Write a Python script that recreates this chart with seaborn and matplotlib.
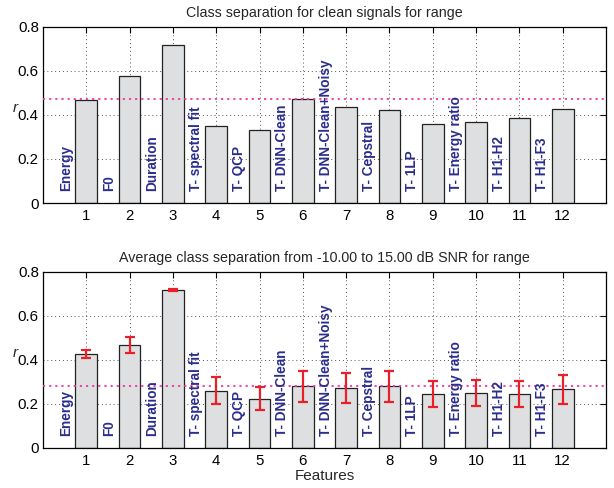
import matplotlib
matplotlib.use("Agg")
import matplotlib.pyplot as plt
import seaborn as sns
import numpy as np
import pandas as pd

features = [str(i) for i in range(1, 13)]
feature_names = ["Energy", "F0", "Duration", "T- spectral fit", "T- QCP", "T- DNN-Clean",
                 "T- DNN-Clean+Noisy", "T- Cepstral", "T- 1LP", "T- Energy ratio",
                 "T- H1-H2", "T- H1-F3"]
clean_r = [0.468, 0.577, 0.718, 0.351, 0.330, 0.473, 0.435, 0.421, 0.361, 0.368, 0.388, 0.426]
clean_ref = 0.473
noisy_r = [0.427, 0.468, 0.718, 0.261, 0.224, 0.280, 0.273, 0.280, 0.245, 0.251, 0.245, 0.267]
noisy_err = [0.020, 0.037, 0.003, 0.062, 0.052, 0.071, 0.069, 0.070, 0.059, 0.059, 0.060, 0.066]
noisy_ref = 0.282
titles = ["Class separation for clean signals for range",
          "Average class separation from -10.00 to 15.00 dB SNR for range"]
yticks = [0, 0.2, 0.4, 0.6, 0.8]
ytick_labels = ["0", "0.2", "0.4", "0.6", "0.8"]

sns.set_theme(style="white")
plt.rcParams['font.family'] = ['Liberation Sans', 'DejaVu Sans']

fig = plt.figure(figsize=(6.14, 4.88), dpi=100)
ax1 = fig.add_axes([0.070, 0.584, 0.917, 0.361])
ax2 = fig.add_axes([0.070, 0.082, 0.917, 0.361])

bar_color = "#dedfe0"
text_color = "#2b2d8e"
ref_color = "#f0389c"

def style(ax, values, ref, title, err=None):
    df = pd.DataFrame({"feature": features, "r": values})
    sns.barplot(data=df, x="feature", y="r", ax=ax, color=bar_color, saturation=1,
                edgecolor="#222222", linewidth=0.9, width=0.5, errorbar=None)
    pos = np.arange(len(features))
    if err is not None:
        ax.errorbar(pos, values, yerr=err, fmt="none", ecolor="#e8202a",
                    elinewidth=1.6, capsize=3.5, capthick=1.6, zorder=5)
    ax.axhline(ref, color=ref_color, linestyle=(0, (1.2, 2.2)), linewidth=1.3, zorder=4)
    for p, name in zip(pos, feature_names):
        ax.text(p - 0.47, 0.055, name, rotation=90, ha="center", va="bottom",
                color=text_color, fontsize=9.8, fontweight="bold", zorder=6)
    ax.set_xlim(-1, 12)
    ax.set_ylim(0, 0.8)
    ax.set_yticks(yticks)
    ax.set_yticklabels(ytick_labels)
    ax.set_xticks(pos)
    ax.set_xticklabels(features)
    ax.set_axisbelow(True)
    ax.grid(True, linestyle=(0, (1, 3)), color="#555555", linewidth=0.7)
    ax.tick_params(direction="in", length=4, width=0.8, top=True, right=True,
                   labelsize=10.8, colors="black", pad=4)
    ax.tick_params(axis="y", pad=3)
    for s in ax.spines.values():
        s.set_color("black")
        s.set_linewidth(0.9)
    ax.set_title(title, fontsize=10.3, pad=7)
    ax.set_ylabel("r", fontsize=11, fontstyle="italic", rotation=0, labelpad=2)
    ax.set_xlabel("")

style(ax1, clean_r, clean_ref, titles[0])
style(ax2, noisy_r, noisy_ref, titles[1], noisy_err)
ax2.set_xlabel("Features", fontsize=11, labelpad=1)

fig.savefig("out.png", dpi=100)
